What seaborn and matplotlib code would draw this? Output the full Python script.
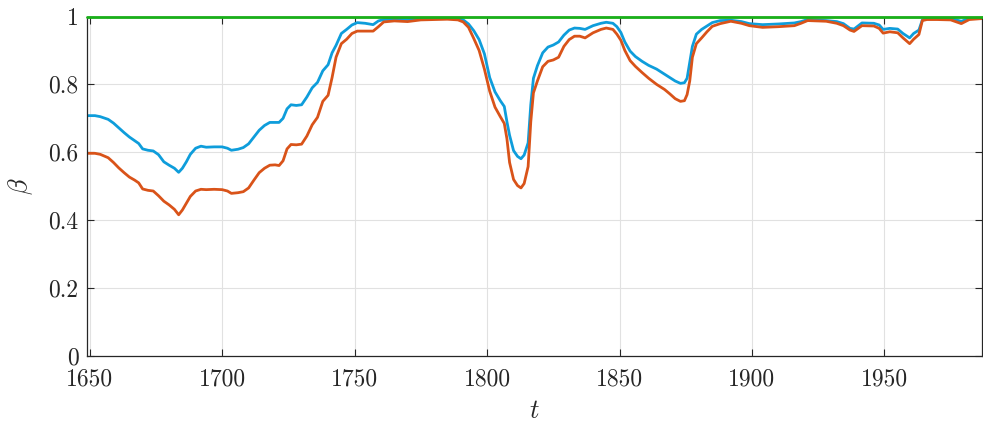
import numpy as np
import pandas as pd
import matplotlib
matplotlib.use("Agg")
import matplotlib.pyplot as plt
import seaborn as sns

# Time axis (years) and the two beta estimates
years = [1649, 1652, 1654, 1657, 1659, 1661, 1663, 1665, 1667, 1668.5,
         1670, 1672, 1674, 1676, 1678, 1680, 1682, 1683.6, 1685, 1686.5,
         1688, 1690, 1692, 1694, 1697, 1700, 1702, 1703.5, 1706, 1708,
         1710, 1712, 1714, 1716, 1718, 1720, 1721.5, 1723, 1724.5, 1726,
         1728, 1730, 1732, 1734, 1736, 1738, 1740, 1741.5, 1743, 1745,
         1747, 1749, 1751, 1754, 1757, 1759, 1761, 1765, 1770, 1775,
         1780, 1785, 1789, 1791, 1793, 1795, 1797, 1799, 1801, 1803,
         1805, 1806.5, 1807.5, 1808.5, 1810, 1811.5, 1812.8, 1814, 1815.5, 1816.5,
         1817.5, 1819, 1821, 1823, 1825, 1827, 1829, 1831, 1833, 1835,
         1837, 1840, 1843, 1845, 1847.5, 1849, 1850.5, 1852, 1854, 1856,
         1858.5, 1861, 1864, 1867, 1869, 1871, 1873, 1874.5, 1875.5, 1876.5,
         1877.5, 1879, 1881, 1883, 1885, 1888, 1892, 1896, 1899, 1904,
         1910, 1916, 1918.5, 1921, 1928, 1932, 1934.5, 1937, 1938.5, 1941.5,
         1946, 1948, 1949.5, 1952, 1955, 1957, 1959.5, 1961, 1963, 1964.3,
         1966, 1970, 1975, 1979, 1982, 1987]

beta_upper = [0.708, 0.708, 0.705, 0.697, 0.686, 0.672, 0.658, 0.645, 0.634, 0.626,
              0.610, 0.606, 0.604, 0.593, 0.572, 0.562, 0.553, 0.541, 0.553, 0.572,
              0.594, 0.612, 0.618, 0.615, 0.616, 0.616, 0.612, 0.606, 0.609, 0.614,
              0.625, 0.645, 0.665, 0.679, 0.688, 0.688, 0.688, 0.700, 0.728, 0.740,
              0.738, 0.740, 0.763, 0.790, 0.806, 0.840, 0.858, 0.893, 0.915, 0.950,
              0.962, 0.975, 0.982, 0.980, 0.976, 0.987, 0.991, 0.992, 0.991, 0.996,
              0.997, 0.997, 0.995, 0.990, 0.978, 0.958, 0.932, 0.890, 0.820, 0.778,
              0.752, 0.735, 0.690, 0.650, 0.605, 0.588, 0.581, 0.592, 0.628, 0.740,
              0.818, 0.855, 0.893, 0.910, 0.916, 0.925, 0.945, 0.960, 0.966, 0.965,
              0.962, 0.973, 0.980, 0.983, 0.980, 0.970, 0.953, 0.925, 0.898, 0.882,
              0.868, 0.856, 0.845, 0.830, 0.820, 0.810, 0.803, 0.805, 0.818, 0.865,
              0.912, 0.948, 0.962, 0.972, 0.982, 0.988, 0.989, 0.985, 0.979, 0.976,
              0.978, 0.981, 0.985, 0.991, 0.988, 0.985, 0.979, 0.965, 0.963, 0.981,
              0.980, 0.975, 0.962, 0.965, 0.963, 0.950, 0.937, 0.950, 0.960, 0.990,
              0.996, 0.995, 0.994, 0.986, 0.994, 0.996]

beta_lower = [0.597, 0.597, 0.594, 0.584, 0.570, 0.554, 0.540, 0.527, 0.518, 0.510,
              0.492, 0.488, 0.486, 0.472, 0.456, 0.445, 0.432, 0.416, 0.430, 0.450,
              0.470, 0.486, 0.491, 0.490, 0.491, 0.490, 0.486, 0.479, 0.481, 0.484,
              0.495, 0.518, 0.540, 0.553, 0.562, 0.563, 0.561, 0.575, 0.610, 0.623,
              0.622, 0.624, 0.648, 0.681, 0.703, 0.750, 0.768, 0.820, 0.880, 0.920,
              0.933, 0.950, 0.957, 0.957, 0.957, 0.970, 0.984, 0.987, 0.985, 0.990,
              0.991, 0.992, 0.990, 0.984, 0.968, 0.935, 0.900, 0.845, 0.780, 0.733,
              0.705, 0.685, 0.640, 0.570, 0.520, 0.502, 0.495, 0.508, 0.558, 0.690,
              0.775, 0.810, 0.852, 0.868, 0.872, 0.880, 0.912, 0.932, 0.942, 0.942,
              0.937, 0.952, 0.962, 0.966, 0.962, 0.948, 0.930, 0.900, 0.870, 0.853,
              0.835, 0.818, 0.800, 0.785, 0.772, 0.758, 0.750, 0.752, 0.770, 0.810,
              0.880, 0.920, 0.937, 0.955, 0.971, 0.979, 0.986, 0.980, 0.973, 0.968,
              0.970, 0.973, 0.980, 0.988, 0.986, 0.980, 0.973, 0.960, 0.956, 0.973,
              0.972, 0.965, 0.951, 0.955, 0.952, 0.937, 0.920, 0.933, 0.947, 0.988,
              0.991, 0.991, 0.990, 0.979, 0.991, 0.994]

beta_ref = [1.0] * len(years)

x_ticks = [1650, 1700, 1750, 1800, 1850, 1900, 1950]
x_tick_labels = ["1650", "1700", "1750", "1800", "1850", "1900", "1950"]
y_ticks = [0, 0.2, 0.4, 0.6, 0.8, 1.0]
y_tick_labels = ["0", "0.2", "0.4", "0.6", "0.8", "1"]

sns.set_style("whitegrid")
plt.rcParams.update({
    "font.family": "serif",
    "font.serif": ["cmr10", "DejaVu Serif"],
    "mathtext.fontset": "cm",
    "axes.unicode_minus": False,
    "axes.formatter.use_mathtext": True,
})

df = pd.DataFrame({"t": years, "upper": beta_upper,
                   "lower": beta_lower, "ref": beta_ref})

fig = plt.figure(figsize=(9.83, 4.24), dpi=100)
ax = fig.add_axes([87 / 983, 68 / 424, 895.5 / 983, 339.5 / 424])

lw = 2.0
sns.lineplot(data=df, x="t", y="upper", ax=ax, color="#0E9DDB", lw=lw,
             solid_joinstyle="round", solid_capstyle="round")
sns.lineplot(data=df, x="t", y="lower", ax=ax, color="#D95319", lw=lw,
             solid_joinstyle="round", solid_capstyle="round")
sns.lineplot(data=df, x="t", y="ref", ax=ax, color="#19B019", lw=lw,
             clip_on=False, zorder=3)

ax.set_xlim(1649, 1987)
ax.set_ylim(0, 1)
ax.set_xticks(x_ticks)
ax.set_xticklabels(x_tick_labels)
ax.set_yticks(y_ticks)
ax.set_yticklabels(y_tick_labels)

ax.grid(True, color="#e1e1e1", lw=0.8)
for s in ax.spines.values():
    s.set_visible(True)
    s.set_color("#262626")
    s.set_linewidth(0.9)

ax.tick_params(axis="both", which="both", direction="in", length=5, width=0.8,
               color="#262626", labelcolor="#262626", labelsize=17,
               top=True, right=True, bottom=True, left=True)
ax.tick_params(axis="x", pad=9)
ax.tick_params(axis="y", pad=6)

ax.set_xlabel(r"$t$", fontsize=19, color="#262626", labelpad=6)
ax.set_ylabel(r"$\beta$", fontsize=19, color="#262626", labelpad=10)

fig.savefig("out.png", dpi=100)
